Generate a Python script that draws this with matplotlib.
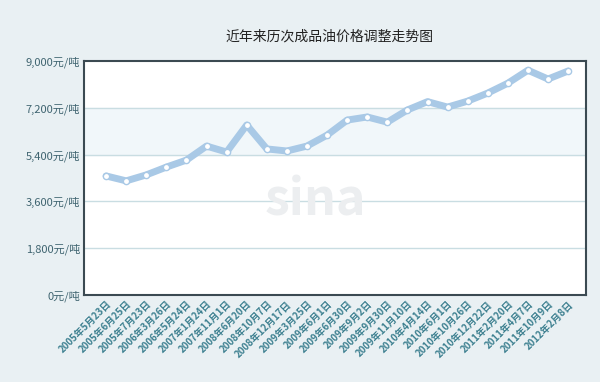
import matplotlib
matplotlib.use("Agg")
import matplotlib.pyplot as plt

plt.rcParams['font.family'] = ['Noto Sans CJK SC', 'DejaVu Sans']

# ----- datos -----
dates = ["2005年5月23日", "2005年6月25日", "2005年7月23日", "2006年3月26日",
         "2006年5月24日", "2007年1月24日", "2007年11月1日", "2008年6月20日",
         "2008年10月7日", "2008年12月17日", "2009年3月25日", "2009年6月1日",
         "2009年6月30日", "2009年9月2日", "2009年9月30日", "2009年11月10日",
         "2010年4月14日", "2010年6月1日", "2010年10月26日", "2010年12月22日",
         "2011年2月20日", "2011年4月7日", "2011年10月9日", "2012年2月8日"]
prices = [4580, 4390, 4620, 4920, 5190, 5730, 5500, 6540, 5620, 5540, 5730, 6150,
          6730, 6850, 6650, 7120, 7440, 7230, 7460, 7770, 8150, 8650, 8310, 8620]
yticks = [0, 1800, 3600, 5400, 7200, 9000]
ylabels = ["0元/吨", "1,800元/吨", "3,600元/吨", "5,400元/吨", "7,200元/吨", "9,000元/吨"]

fig = plt.figure(figsize=(6, 3.82), dpi=100)
fig.patch.set_facecolor("#e9f0f3")
ax = fig.add_axes([0.14, 0.228, 0.837, 0.612])
ax.set_facecolor("white")

# banda entre 5,400 y 7,200
ax.axhspan(5400, 7200, color="#f1f7fa", zorder=0)
for v in yticks[1:-1]:
    ax.axhline(v, color="#c9dde2", lw=1, zorder=1)

x = list(range(len(dates)))
ax.plot(x, prices, color="#a9c9e6", lw=5, solid_capstyle="round", zorder=3)
ax.plot(x, prices, "o", ms=4.5, mfc="white", mec="#a9c9e6", mew=1, zorder=4)

# marca de agua
ax.text(0.46, 0.40, "sina", transform=ax.transAxes, ha="center", va="center",
        fontsize=36, style="italic", fontweight="bold", color="#eceef0", zorder=2)

ax.set_xlim(-1.1, len(dates) - 0.1)
ax.set_ylim(0, 9000)
ax.set_yticks(yticks)
ax.set_yticklabels(ylabels, fontsize=8, color="#3f6470")
ax.set_xticks(x)
ax.set_xticklabels(dates, rotation=45, ha="right", rotation_mode="anchor",
                   fontsize=7, color="#3d8090", fontweight="bold")
ax.tick_params(length=0, pad=3)
for s in ax.spines.values():
    s.set_color("#3b4a52")
    s.set_linewidth(1.5)

fig.text(0.55, 0.895, "近年来历次成品油价格调整走势图", ha="center", fontsize=10, color="#222222")

fig.savefig("out.png", dpi=100, facecolor=fig.get_facecolor())
